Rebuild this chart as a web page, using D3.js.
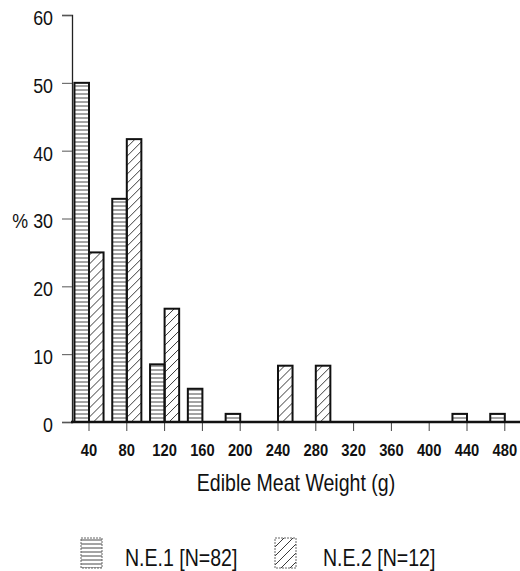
<!DOCTYPE html>
<html>
<head>
<meta charset="utf-8">
<script src="https://cdn.jsdelivr.net/npm/d3@7"></script>
<style>
body { margin: 0; background: #fff; }
text { font-family: "Liberation Sans", Arial, sans-serif; fill: #111; }
</style>
</head>
<body>
<script>
const bins = ["40", "80", "120", "160", "200", "240", "280", "320", "360", "400", "440", "480"];
const ne1 = [50, 32.9, 8.5, 4.9, 1.2, 0, 0, 0, 0, 0, 1.2, 1.2];
const ne2 = [25, 41.7, 16.7, 0, 0, 8.3, 8.3, 0, 0, 0, 0, 0];
const seriesNames = ["N.E.1 [N=82]", "N.E.2 [N=12]"];
const yTicks = [0, 10, 20, 30, 40, 50, 60];

// the original lettering is condensed, squeeze it horizontally
const squeeze = 0.85;

const svg = d3.select("body")
	.append("svg")
	.attr("width", 520)
	.attr("height", 571);

const defs = svg.append("defs");
const hor = defs.append("pattern")
	.attr("id", "hor")
	.attr("patternUnits", "userSpaceOnUse")
	.attr("width", 4)
	.attr("height", 4);
hor.append("line")
	.attr("x1", 0).attr("x2", 4)
	.attr("y1", 2).attr("y2", 2)
	.attr("stroke", "#333")
	.attr("stroke-width", 0.9);

const diag = defs.append("pattern")
	.attr("id", "diag")
	.attr("patternUnits", "userSpaceOnUse")
	.attr("width", 9)
	.attr("height", 9);
diag.append("path")
	.attr("d", "M0,9 L9,0 M-2,2 L2,-2 M7,11 L11,7")
	.attr("stroke", "#222")
	.attr("stroke-width", 0.9);

const fills = ["url(#hor)", "url(#diag)"];

const x = d3.scaleBand()
	.domain(bins)
	.range([70.1, 523.7])
	.paddingInner(0.23)
	.paddingOuter(0.115);

const xs = d3.scaleBand()
	.domain([0, 1])
	.range([0, x.bandwidth()]);

const y = d3.scaleLinear()
	.domain([0, 60])
	.range([422, 15]);

// y axis
const yAxis = svg.append("g")
	.attr("transform", "translate(72,0)")
	.call(d3.axisLeft(y).tickValues(yTicks).tickSize(10));
yAxis.select(".domain").attr("stroke", "#222").attr("stroke-width", 1.3);
yAxis.selectAll(".tick line").attr("stroke", "#555").attr("stroke-width", 1);
yAxis.selectAll(".tick text")
	.style("font-size", "21px")
	.attr("fill", "#111")
	.attr("x", -19 / squeeze)
	.attr("dy", "0.45em")
	.attr("transform", "scale(" + squeeze + ",1)");

svg.append("text")
	.attr("transform", "translate(28," + y(30) + ") scale(" + squeeze + ",1)")
	.attr("dy", "0.45em")
	.attr("text-anchor", "end")
	.style("font-size", "21px")
	.text("%");

// bars
const groups = svg.selectAll(".grp")
	.data(bins)
	.enter()
	.append("g")
	.attr("transform", (d) => "translate(" + x(d) + ",0)");

groups.selectAll("rect")
	.data((d, i) => [ne1[i], ne2[i]].map((v, s) => ({ v: v, s: s })).filter((e) => e.v > 0))
	.enter()
	.append("rect")
	.attr("x", (d) => xs(d.s))
	.attr("width", xs.bandwidth())
	.attr("y", (d) => y(d.v))
	.attr("height", (d) => y(0) - y(d.v))
	.attr("fill", (d) => fills[d.s])
	.attr("stroke", "#111")
	.attr("stroke-width", 2);

// x axis
const xAxis = svg.append("g")
	.attr("transform", "translate(0,422)")
	.call(d3.axisBottom(x).tickSize(9).tickSizeOuter(0).tickPadding(14));
xAxis.select(".domain").remove();
xAxis.selectAll(".tick line").attr("stroke", "#444").attr("stroke-width", 1);
xAxis.selectAll(".tick text")
	.style("font-size", "16px")
	.style("font-weight", "bold")
	.attr("fill", "#111")
	.attr("transform", "scale(0.92,1)");

svg.append("line")
	.attr("x1", 71).attr("x2", 520)
	.attr("y1", 422).attr("y2", 422)
	.attr("stroke", "#111")
	.attr("stroke-width", 2.6);

svg.append("text")
	.attr("transform", "translate(296,491) scale(" + squeeze + ",1)")
	.attr("text-anchor", "middle")
	.style("font-size", "23px")
	.text("Edible Meat Weight (g)");

// legend
const legendX = [81, 275];
const legend = svg.selectAll(".leg")
	.data(seriesNames)
	.enter()
	.append("g")
	.attr("transform", (d, i) => "translate(" + legendX[i] + ",538)");

legend.append("rect")
	.attr("width", 21)
	.attr("height", 30)
	.attr("fill", (d, i) => fills[i])
	.attr("stroke", "#666")
	.attr("stroke-width", 1)
	.attr("stroke-dasharray", "2,1");

legend.append("text")
	.attr("transform", (d, i) => "translate(" + (i == 0 ? 44 : 48) + ",28) scale(" + squeeze + ",1)")
	.style("font-size", "23px")
	.text((d) => d);
</script>
</body>
</html>
